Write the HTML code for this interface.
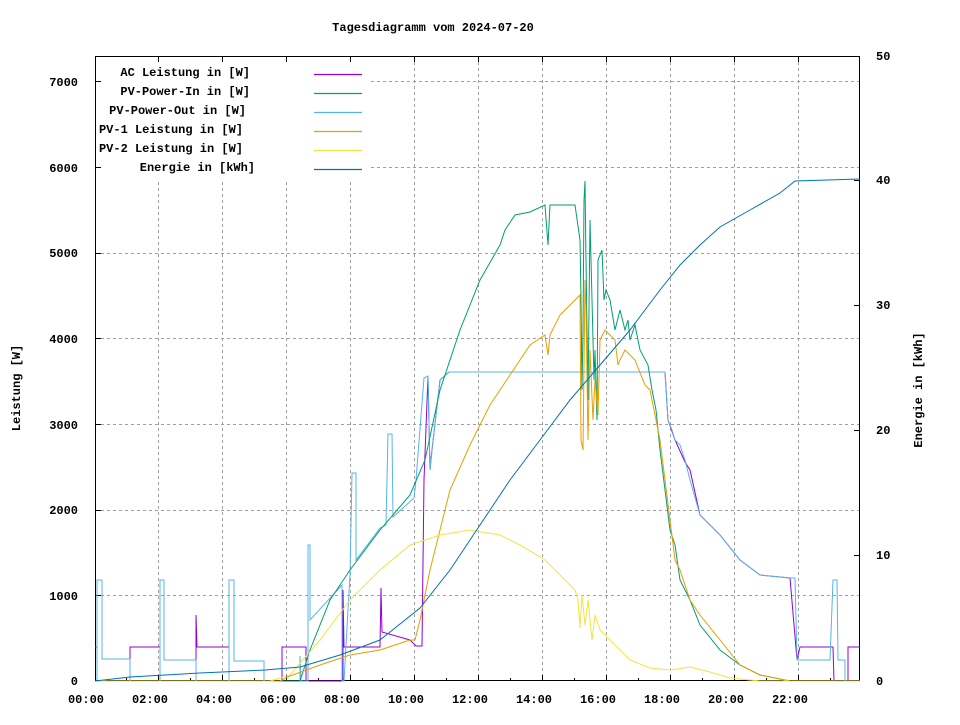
<!DOCTYPE html>
<html><head><meta charset="utf-8"><style>
html,body{margin:0;padding:0;background:#fff;}
svg text{font-family:"Liberation Mono",monospace;font-size:12px;font-weight:bold;fill:#000;}
</style></head><body>
<svg width="960" height="720" viewBox="0 0 960 720" xmlns="http://www.w3.org/2000/svg">
<rect width="960" height="720" fill="#fff"/>
<g stroke="#a0a0a0" stroke-width="1" stroke-dasharray="3,3" fill="none">
<path d="M158.5,56V681M222.5,56V681M286.5,56V681M350.5,56V681M414.5,56V681M478.5,56V681M542.5,56V681M606.5,56V681M670.5,56V681M734.5,56V681M798.5,56V681"/>
<path d="M95,595.5H860M95,510.5H860M95,424.5H860M95,338.5H860M95,253.5H860M95,167.5H860M95,81.5H860"/>
</g>
<rect x="100" y="60" width="268" height="120" fill="#fff"/>
<rect x="95.5" y="56.5" width="764" height="624" fill="none" stroke="#000"/>
<g stroke="#000" fill="none">
<path d="M95,595.5h6M95,510.5h6M95,424.5h6M95,338.5h6M95,253.5h6M95,167.5h6M95,81.5h6"/>
<path d="M860,555.5h-6M860,430.5h-6M860,305.5h-6M860,180.5h-6"/>
<path d="M158.5,681v-6M222.5,681v-6M286.5,681v-6M350.5,681v-6M414.5,681v-6M478.5,681v-6M542.5,681v-6M606.5,681v-6M670.5,681v-6M734.5,681v-6M798.5,681v-6"/>
<path d="M126.5,681v-3M190.5,681v-3M254.5,681v-3M318.5,681v-3M382.5,681v-3M446.5,681v-3M510.5,681v-3M574.5,681v-3M638.5,681v-3M702.5,681v-3M766.5,681v-3M830.5,681v-3"/>
<path d="M158.5,56v6M222.5,56v6M286.5,56v6M350.5,56v6M414.5,56v6M478.5,56v6M542.5,56v6M606.5,56v6M670.5,56v6M734.5,56v6M798.5,56v6"/>
</g>
<text x="433" y="31" text-anchor="middle">Tagesdiagramm vom 2024-07-20</text>
<g text-anchor="end">
<text x="78" y="685">0</text><text x="78" y="600">1000</text><text x="78" y="514">2000</text><text x="78" y="429">3000</text><text x="78" y="343">4000</text><text x="78" y="257">5000</text><text x="78" y="172">6000</text><text x="78" y="86">7000</text>
</g>
<g>
<text x="876" y="685">0</text><text x="876" y="559">10</text><text x="876" y="434">20</text><text x="876" y="309">30</text><text x="876" y="184">40</text><text x="876" y="60">50</text>
</g>
<g text-anchor="middle">
<text x="86" y="703">00:00</text><text x="150" y="703">02:00</text><text x="214" y="703">04:00</text><text x="278" y="703">06:00</text><text x="342" y="703">08:00</text><text x="406" y="703">10:00</text><text x="470" y="703">12:00</text><text x="534" y="703">14:00</text><text x="598" y="703">16:00</text><text x="662" y="703">18:00</text><text x="726" y="703">20:00</text><text x="790" y="703">22:00</text>
</g>
<text transform="translate(20,388) rotate(-90)" text-anchor="middle">Leistung [W]</text>
<text transform="translate(922,390) rotate(-90)" text-anchor="middle">Energie in [kWh]</text>
<g text-anchor="end">
<text x="250" y="76">AC Leistung in [W]</text>
<text x="250" y="95">PV-Power-In in [W]</text>
<text x="246" y="114">PV-Power-Out in [W]</text>
<text x="243" y="133">PV-1 Leistung in [W]</text>
<text x="243" y="152">PV-2 Leistung in [W]</text>
<text x="255" y="171">Energie in [kWh]</text>
</g>
<g stroke-width="1.2">
<path d="M314,74.5h48" stroke="#9400d3"/>
<path d="M314,93.5h48" stroke="#009e73"/>
<path d="M314,112.5h48" stroke="#56b4e9"/>
<path d="M314,131.5h48" stroke="#e69f00"/>
<path d="M314,150.5h48" stroke="#f0e442"/>
<path d="M314,169.5h48" stroke="#0072b2"/>
</g>
<g fill="none" stroke-width="1">
<polyline stroke="#9400d3" points="95,647 97,647 97,681 130,681 130,647 160,647 160,681 196,681 196,615 197,647 229,647 229,681 282,681 282,647 306,647 306,681 343,681 343,590 344,647 380,647 381,588 382,632 410,640 416,646 422,646 424,480 428,376 430,470 432,450 440,380 449,372 665,372 668,420 675,440 685,462 690,470 700,515 720,535 740,560 760,575 790,578 797,660 800,647 833,647 834,681 848,681 848,647 860,647"/>
<polyline stroke="#56b4e9" points="95,681 97,681 97,580 102,580 102,659 130,659 130,681 160,681 160,580 164,580 164,660 196,660 196,681 229,681 229,580 234,580 234,661 264,661 264,681 300,681 300,656 301,681 308,681 308,545 310,545 310,620 342,585 342,681 344,681 350,575 352,473 356,473 356,560 380,528 386,525 388,434 392,434 393,517 414,498 416,480 424,378 428,376 430,470 432,450 440,380 449,372 665,372 668,420 672,430 675,440 680,445 685,460 690,480 700,515 720,535 740,560 760,575 790,578 795,578 797,660 830,660 833,580 837,580 838,660 845,660 845,681 860,681"/>
<polyline stroke="#009e73" points="95,681 300,681 310,650 330,600 350,570 380,530 410,495 425,460 440,390 460,330 480,280 500,245 505,230 515,215 530,212 545,205 548,245 550,205 560,205 575,205 580,240 581,300 582,390 583,330 584,200 585,181 586,260 588,400 590,220 592,300 594,380 595,350 597,420 598,260 602,250 604,300 606,290 610,300 615,330 620,310 625,330 628,320 630,340 635,325 640,350 648,365 652,390 656,410 660,450 665,490 670,530 675,545 680,580 690,600 700,625 720,650 740,665 760,675 790,681 860,681"/>
<polyline stroke="#e69f00" points="95,681 280,681 290,676 320,665 350,655 380,650 410,640 415,640 420,620 430,570 450,490 470,445 490,405 510,375 530,345 545,335 548,355 550,335 560,315 575,300 580,295 581,440 583,450 585,280 586,310 588,440 590,350 593,420 595,380 598,415 600,340 605,330 615,340 618,365 620,360 625,350 635,360 645,385 650,390 652,400 660,440 665,480 670,520 675,560 680,570 690,600 700,615 720,640 740,665 760,675 790,681 860,681"/>
<polyline stroke="#f0e442" points="95,681 270,681 290,675 320,640 350,600 380,570 410,545 440,535 470,530 500,535 520,545 545,560 560,575 575,590 578,600 580,628 582,595 585,625 588,600 590,620 592,640 595,615 600,630 610,640 630,660 650,668 670,670 690,667 710,672 730,678 760,681 860,681"/>
<polyline stroke="#0072b2" points="95,681 130,677 200,673 265,670 300,667 340,655 380,640 420,608 450,570 480,525 510,480 540,440 570,400 600,365 630,330 660,290 680,265 700,245 720,227 750,210 780,193 795,181 860,179"/>
</g>
</svg>
</body></html>
